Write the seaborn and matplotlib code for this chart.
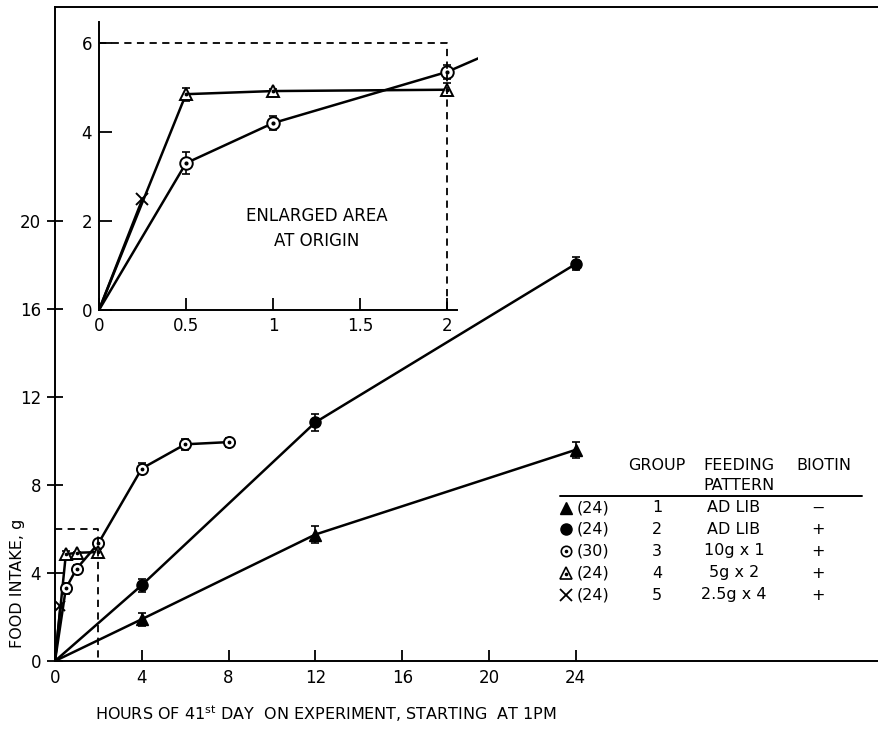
import numpy as np
import pandas as pd
import matplotlib
matplotlib.use("Agg")
import matplotlib.pyplot as plt
import seaborn as sns
from matplotlib.lines import Line2D

# ---------------- data ----------------
g1_x = [0, 4, 12, 24]
g1_y = [0, 1.9, 5.75, 9.6]
g1_e = [0, 0.3, 0.4, 0.35]

g2_x = [0, 4, 12, 24]
g2_y = [0, 3.45, 10.85, 18.05]
g2_e = [0, 0.3, 0.4, 0.3]

g3_x = [0, 0.5, 1, 2, 4, 6, 8]
g3_y = [0, 3.3, 4.2, 5.35, 8.75, 9.85, 9.95]
g3_e = [0, 0.25, 0.15, 0.15, 0.25, 0.25, 0.2]

g4_x = [0, 0.5, 1, 2]
g4_y = [0, 4.85, 4.92, 4.95]
g4_e = [0, 0.15, 0.05, 0.15]

g5_x = [0, 0.25]
g5_y = [0, 2.5]

main_xticks = [0, 4, 8, 12, 16, 20, 24]
main_yticks = [0, 4, 8, 12, 16, 20]
inset_xticks = [0, 0.5, 1, 1.5, 2]
inset_xlabels = ["0", "0.5", "1", "1.5", "2"]
inset_yticks = [0, 2, 4, 6]

legend_n = ["(24)", "(24)", "(30)", "(24)", "(24)"]
legend_group = ["1", "2", "3", "4", "5"]
legend_pattern = ["AD LIB", "AD LIB", "10g x 1", "5g x 2", "2.5g x 4"]
legend_biotin = ["\u2212", "+", "+", "+", "+"]

# ---------------- style ----------------
sns.set_theme(style="white")
plt.rcParams["font.family"] = ["DejaVu Sans"]
plt.rcParams["axes.linewidth"] = 1.4

W, H = 879, 729
fig = plt.figure(figsize=(W / 100, H / 100), dpi=100)

def fx(px):
    return px / W

def fy(py):
    return 1 - py / H

frames = []
for name, xs, ys in [("g1", g1_x, g1_y), ("g2", g2_x, g2_y), ("g3", g3_x, g3_y),
                     ("g4", g4_x, g4_y), ("g5", g5_x, g5_y)]:
    frames.append(pd.DataFrame({"group": name, "x": xs, "y": ys}))
df = pd.concat(frames, ignore_index=True)

LW = 1.8
K = "black"

def draw(ax, ms, groups):
    sub = df[df["group"].isin(groups)]
    sns.lineplot(data=sub, x="x", y="y", units="group", estimator=None,
                 color=K, linewidth=LW, ax=ax, legend=False, sort=False)
    cap = 3
    if "g1" in groups:
        ax.errorbar(g1_x[1:], g1_y[1:], yerr=g1_e[1:], fmt="none", ecolor=K,
                    elinewidth=1.2, capsize=cap, capthick=1.2)
        ax.plot(g1_x[1:], g1_y[1:], ls="none", marker="^", ms=ms, color=K)
    if "g2" in groups:
        ax.errorbar(g2_x[1:], g2_y[1:], yerr=g2_e[1:], fmt="none", ecolor=K,
                    elinewidth=1.2, capsize=cap, capthick=1.2)
        ax.plot(g2_x[1:], g2_y[1:], ls="none", marker="o", ms=ms, color=K)
    if "g3" in groups:
        ax.errorbar(g3_x[1:], g3_y[1:], yerr=g3_e[1:], fmt="none", ecolor=K,
                    elinewidth=1.2, capsize=cap, capthick=1.2)
        ax.plot(g3_x[1:], g3_y[1:], ls="none", marker="o", ms=ms, mfc="white",
                mec=K, mew=1.4)
        ax.plot(g3_x[1:], g3_y[1:], ls="none", marker="o", ms=ms * 0.22, color=K)
    if "g4" in groups:
        ax.errorbar(g4_x[1:], g4_y[1:], yerr=g4_e[1:], fmt="none", ecolor=K,
                    elinewidth=1.2, capsize=cap, capthick=1.2)
        ax.plot(g4_x[1:], g4_y[1:], ls="none", marker="^", ms=ms, mfc="white",
                mec=K, mew=1.4)
        ax.plot(g4_x[1:], g4_y[1:], ls="none", marker="o", ms=ms * 0.2, color=K)
    if "g5" in groups:
        ax.plot(g5_x[1:], g5_y[1:], ls="none", marker="x", ms=ms * 0.9, color=K,
                mew=1.4)

# ---------------- main axes ----------------
ax = fig.add_axes([fx(55), fy(661), fx(879) - fx(55), fy(7) - fy(661)])
draw(ax, ms=8, groups=["g1", "g2", "g3", "g4", "g5"])
ax.set_xlim(0, (879 - 55) / 21.7)
ax.set_ylim(0, (661 - 7) / 22.0)
ax.set_xticks(main_xticks)
ax.set_yticks(main_yticks)
ax.spines["right"].set_visible(False)
for s in ["left", "bottom", "top"]:
    ax.spines[s].set_color(K)
ax.tick_params(axis="x", direction="in", length=8, width=1.3, labelsize=12,
               pad=6, colors=K, bottom=True)
ax.tick_params(axis="y", direction="inout", length=12, width=1.3, labelsize=12,
               pad=4, colors=K, left=True)
ax.set_xlabel("")
ax.set_ylabel("")
# dashed box (enlarged area)
ax.plot([0, 2, 2], [6, 6, 0], ls=(0, (4, 3)), color=K, lw=1.3)

# ---------------- inset ----------------
ix0, iy0 = 99, 310
pxu_x, pxu_y = 174.0, 44.5
ins = fig.add_axes([fx(ix0), fy(iy0), 2.18 * pxu_x / W, 6.47 * pxu_y / H])
ins.patch.set_alpha(0)
draw(ins, ms=9, groups=["g3", "g4", "g5"])
ins.set_xlim(0, 2.18)
ins.set_ylim(0, 6.47)
ins.set_xticks(inset_xticks)
ins.set_xticklabels(inset_xlabels)
ins.set_yticks(inset_yticks)
ins.spines["right"].set_visible(False)
ins.spines["top"].set_visible(False)
ins.spines["bottom"].set_bounds(0, 2.06)
for s in ["left", "bottom"]:
    ins.spines[s].set_color(K)
ins.tick_params(axis="both", direction="in", length=9, width=1.3, labelsize=12,
                pad=5, colors=K, left=True, bottom=True)
ins.set_xlabel("")
ins.set_ylabel("")
ins.plot([0, 2, 2], [6, 6, 0], ls=(0, (4, 3)), color=K, lw=1.3)
ins.text(1.25, 1.84, "ENLARGED AREA\nAT ORIGIN", ha="center", va="center",
         fontsize=12, color=K, linespacing=1.5)

# ---------------- labels ----------------
fig.text(fx(18), fy(583), "FOOD INTAKE, g", rotation=90, ha="center",
         va="center", fontsize=11.5, color=K)
fig.text(fx(326), fy(714),
         r"HOURS OF 41$^{\mathrm{st}}$ DAY  ON EXPERIMENT, STARTING  AT 1PM",
         ha="center", va="center", fontsize=11.5, color=K)

# ---------------- table legend ----------------
fs = 11.5
fig.text(fx(657), fy(465), "GROUP", ha="center", va="center", fontsize=fs, color=K)
fig.text(fx(739), fy(465), "FEEDING", ha="center", va="center", fontsize=fs, color=K)
fig.text(fx(739), fy(485), "PATTERN", ha="center", va="center", fontsize=fs, color=K)
fig.text(fx(824), fy(465), "BIOTIN", ha="center", va="center", fontsize=fs, color=K)
fig.add_artist(Line2D([fx(560), fx(862)], [fy(496), fy(496)], color=K, lw=1.4))

row_y = [508, 529, 551, 573, 595]
leg_styles = [
    dict(marker="^", ms=8, color=K),
    dict(marker="o", ms=8, color=K),
    dict(marker="o", ms=7.5, mfc="white", mec=K, mew=1.2),
    dict(marker="^", ms=8, mfc="white", mec=K, mew=1.2),
    dict(marker="x", ms=8, color=K, mew=1.3),
]
for i, yy in enumerate(row_y):
    fig.add_artist(Line2D([fx(566)], [fy(yy)], ls="none", **leg_styles[i]))
    if i in (2, 3):
        fig.add_artist(Line2D([fx(566)], [fy(yy + (1 if i == 3 else 0))],
                              ls="none", marker="o", ms=1.6, color=K))
    fig.text(fx(577), fy(yy), legend_n[i], ha="left", va="center", fontsize=fs, color=K)
    fig.text(fx(657), fy(yy), legend_group[i], ha="center", va="center", fontsize=fs, color=K)
    fig.text(fx(734), fy(yy), legend_pattern[i], ha="center", va="center", fontsize=fs, color=K)
    fig.text(fx(818), fy(yy), legend_biotin[i], ha="center", va="center", fontsize=fs, color=K)

fig.savefig("out.png", dpi=100)
